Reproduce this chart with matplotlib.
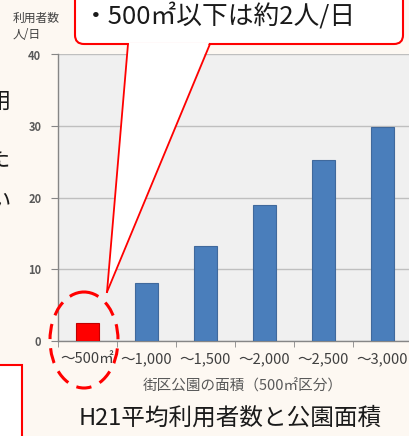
import matplotlib
matplotlib.use("Agg")
import matplotlib.pyplot as plt
import matplotlib.patches as mpatches
import matplotlib.lines as mlines
from matplotlib.transforms import Affine2D

plt.rcParams['font.family'] = ['Noto Sans CJK JP', 'DejaVu Sans']

# 街区公園の面積区分ごとの平均利用者数（H21）
categories = ['～500㎡', '～1,000', '～1,500', '～2,000', '～2,500', '～3,000']
users = [2.5, 8.1, 13.3, 19.0, 25.3, 29.9]
bar_colors = ['#FF0000', '#4A7EBB', '#4A7EBB', '#4A7EBB', '#4A7EBB', '#4A7EBB']
edge_colors = ['#C00000', '#40699C', '#40699C', '#40699C', '#40699C', '#40699C']
y_ticks = [0, 10, 20, 30, 40]

W, H = 410, 436
BG = '#FDF8F2'

fig = plt.figure(figsize=(W / 100, H / 100), dpi=100, facecolor=BG)
# pixel coordinates measured from the top-left corner
pix = Affine2D().scale(1, -1).translate(0, H)

ax = fig.add_axes([58 / W, 95 / H, 354 / W, 286.5 / H])
ax.set_facecolor('#F0F0F0')
x = range(len(categories))
ax.bar(x, users, width=0.4, color=bar_colors, edgecolor=edge_colors,
       linewidth=0.8, zorder=3)

ax.set_xlim(-0.5, len(categories) - 0.5)
ax.set_ylim(0, 40)
ax.set_yticks(y_ticks)
ax.set_yticklabels([str(v) for v in y_ticks], fontsize=8, color='#595959',
                   fontweight='bold')
ax.grid(axis='y', color='#BFBFBF', linewidth=1, zorder=0)
ax.set_axisbelow(True)

ax.set_xticks(list(x))
ax.set_xticklabels(categories, fontsize=10.5, color='#404040')
ax.set_xticks([i + 0.5 for i in range(-1, len(categories))], minor=True)
ax.tick_params(axis='x', which='major', length=0, pad=8)
ax.tick_params(axis='x', which='minor', length=4, color='#868686')
ax.tick_params(axis='y', length=5, color='#868686', pad=7)

for side in ['top', 'right']:
    ax.spines[side].set_visible(False)
for side in ['left', 'bottom']:
    ax.spines[side].set_color('#868686')
    ax.spines[side].set_linewidth(1)

# 軸の見出し
fig.text(13, 22, '利用者数', transform=pix, fontsize=8.5, color='#404040',
         va='baseline')
fig.text(13, 38, '人/日', transform=pix, fontsize=8.5, color='#404040',
         va='baseline')
fig.text(243, 386, '街区公園の面積（500㎡区分）', transform=pix, fontsize=10.5,
         color='#595959', ha='center', va='center')
fig.text(230, 418, 'H21平均利用者数と公園面積', transform=pix, fontsize=17,
         color='#1A1A1A', ha='center', va='center')

# 左側の本文（はみ出し部分）
for ch, cy in [('用', 101), ('た', 159), ('い', 201)]:
    fig.text(-1, cy, ch, transform=pix, fontsize=16, color='#1A1A1A',
             ha='center', va='center')

# 左下の枠
fig.add_artist(mpatches.Rectangle((-10, 365), 32, 90, transform=pix,
                                  facecolor='white', edgecolor='#FF0000',
                                  linewidth=1.5, zorder=5))

# 吹き出し
box = mpatches.FancyBboxPatch((75, -20), 328, 64, transform=pix,
                              boxstyle='round,pad=0,rounding_size=9',
                              facecolor='white', edgecolor='#FF0000',
                              linewidth=1.5, zorder=6)
fig.add_artist(box)
tip = (107, 292)
fig.add_artist(mpatches.Polygon([(128.8, 42.5), tip, (209.2, 42.5)],
                                closed=True, transform=pix, facecolor='white',
                                edgecolor='none', zorder=7))
for bx in (128, 210):
    fig.add_artist(mlines.Line2D([bx, tip[0]], [44, tip[1]], transform=pix,
                                 color='#FF0000', linewidth=1.3, zorder=8))
fig.text(83, 24, '・500㎡以下は約2人/日', transform=pix, fontsize=18.5,
         color='#1A1A1A', va='baseline', zorder=9)

# 強調の点線楕円
fig.add_artist(mpatches.Ellipse((84, 340), 68, 96, transform=pix,
                                fill=False, edgecolor='#FF0000', linewidth=2.2,
                                linestyle=(0, (5, 3)), zorder=9))

fig.savefig('out.png', dpi=100, facecolor=BG)
